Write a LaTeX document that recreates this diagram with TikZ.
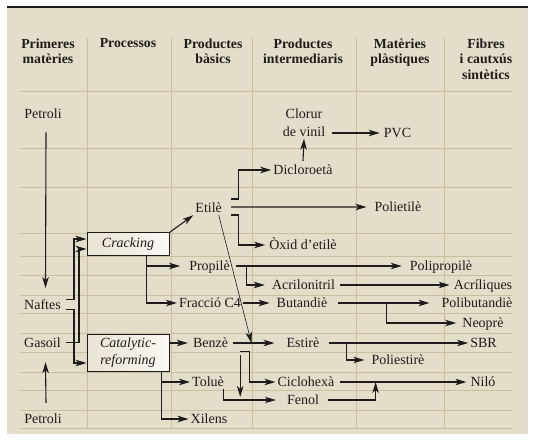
\documentclass[tikz,border=0pt]{standalone}
\usepackage{fontspec}
\setmainfont{Liberation Serif}
\usetikzlibrary{arrows.meta,calc}
\definecolor{bgbeige}{RGB}{228,221,202}
\definecolor{gridtan}{RGB}{203,190,156}
\definecolor{inkcol}{RGB}{30,27,28}
\definecolor{boxleft}{RGB}{233,227,211}
\definecolor{boxright}{RGB}{250,248,243}

\begin{document}
\begin{tikzpicture}[x=1bp,y=-1bp,
  gridline/.style={draw=gridtan,line width=0.6bp},
  colhead/.style={font=\fontsize{13.8bp}{15.5bp}\selectfont\bfseries,align=center,anchor=north,inner sep=0pt,text=inkcol},
  lbl/.style={font=\fontsize{14bp}{16bp}\selectfont,text height=9bp,text depth=0pt,inner sep=2bp,text=inkcol},
  procbox/.style={draw=inkcol,line width=1bp,left color=boxleft,right color=boxright,inner sep=0pt,minimum width=82bp,font=\fontsize{14bp}{16.5bp}\selectfont\itshape,align=center,text=inkcol},
  arr/.style={draw=inkcol,line width=1.1bp,-{Stealth[length=11bp,width=6.5bp,inset=3bp]}},
  thinarr/.style={arr,line width=0.6bp}]
% Page and background
\useasboundingbox (0,0) rectangle (538,440);
\fill[white] (0,0) rectangle (538,440);
\fill[bgbeige] (7,8) rectangle (528,434);
\draw[inkcol,line width=2bp] (7,7) -- (528,7);
% Grid
\foreach \x in {87,171,252,356,444}
  \draw[gridline] (\x,38) -- (\x,428);
\foreach \y in {91,148,187,233,256,275,295,313,333,352,372,390,410,428}
  \draw[gridline] (20,\y) -- (512,\y);
% Column heads
\node[colhead] (hprim) at (48,38.6) {Primeres\\matèries};
\node[colhead] (hproc) at (128,38.6) {Processos};
\node[colhead] (hbas) at (213,38.6) {Productes\\bàsics};
\node[colhead] (hint) at (303,38.6) {Productes\\intermediaris};
\node[colhead] (hplas) at (400,38.6) {Matèries\\plàstiques};
\node[colhead] (hfib) at (486,38.6) {Fibres\\i cautxús\\sintètics};
% Raw materials and processes
\node[lbl] (petrolitop) at (43,113.8) {Petroli};
\node[lbl] (naftes) at (42.5,304.8) {Naftes};
\node[lbl] (gasoil) at (42.5,342.5) {Gasoil};
\node[lbl] (petrolibot) at (43,418.5) {Petroli};
\node[procbox,minimum height=22bp] (crack) at (128,244) {Cracking};
\node[procbox,minimum height=37bp] (catal) at (128,352.5) {Catalytic-\\reforming};
% Basic products
\node[lbl] (etile) at (208.7,208.5) {Etilè};
\node[lbl] (propile) at (209.5,266) {Propilè};
\node[lbl] (fraccio) at (210,303) {Fracció C4};
\node[lbl] (benze) at (210.5,343) {Benzè};
\node[lbl] (tolue) at (208,382) {Toluè};
\node[lbl] (xilens) at (209,419) {Xilens};
% Intermediate products
\node[font=\fontsize{14bp}{18.3bp}\selectfont,align=center,inner sep=2bp,text=inkcol,anchor=south] (clorur) at (304,138.7) {Clorur\\de vinil};
\node[lbl] (diclor) at (303,170) {Dicloroetà};
\node[lbl] (oxid) at (303,245) {Òxid d’etilè};
\node[lbl] (acrilo) at (303.5,285) {Acrilonitril};
\node[lbl] (butan) at (302,303) {Butandiè};
\node[lbl] (estire) at (303,343) {Estirè};
\node[lbl] (ciclo) at (306,382) {Ciclohexà};
\node[lbl] (fenol) at (303,400) {Fenol};
% Plastics, fibres and rubbers
\node[lbl] (pvc) at (397.5,133) {PVC};
\node[lbl] (polietile) at (398,207) {Polietilè};
\node[lbl] (polipropile) at (441,266) {Polipropilè};
\node[lbl] (acril) at (483,285) {Acríliques};
\node[lbl] (polibut) at (477,303) {Polibutandiè};
\node[lbl] (neopre) at (483,323) {Neoprè};
\node[lbl] (sbr) at (483.5,343) {SBR};
\node[lbl] (poliest) at (398,360) {Poliestirè};
\node[lbl] (nilo) at (483,382) {Niló};
% Raw materials to processes
\draw[arr] ([xshift=3bp,yshift=-12bp]petrolitop.south) -- ([xshift=3bp,yshift=10bp]naftes.north);
\draw[arr] ([xshift=3bp,yshift=9bp]petrolibot.north) -- ([xshift=3bp,yshift=-13bp]gasoil.south);
\draw[arr] ([xshift=3bp,yshift=5.5bp]naftes.east) -- ++(8,0) |- ([yshift=5bp]crack.west);
\draw[arr] ([xshift=3bp,yshift=-4.5bp]naftes.east) -- ++(8,0) |- ([yshift=-10.5bp]catal.west);
\draw[arr] ([xshift=3bp]gasoil.east) -- ++(13,0) |- ([yshift=-5bp]crack.west);
% Cracking
\draw[arr] (crack.north east) -- (etile.south west);
\draw[arr] ([xshift=18.7bp]crack.south) |- ([xshift=-7bp]propile.west);
\draw[arr] ([xshift=18.7bp]crack.south) |- (fraccio.west);
% Etile
\draw[arr] ([xshift=7bp,yshift=9.5bp]etile.east) -- ++(7,0) |- (diclor.west);
\draw[arr] ([xshift=7bp,yshift=1.5bp]etile.east) -- ([xshift=-6bp]polietile.west);
\draw[arr] ([xshift=7bp,yshift=-6.5bp]etile.east) -- ++(7,0) |- ([xshift=-2bp]oxid.west);
\draw[thinarr] ([xshift=10bp]etile.south) -- ([xshift=-33bp]estire.west);
\draw[arr] ([yshift=2.5bp]diclor.north) -- (clorur.south);
\draw[arr] ($(pvc.west -| clorur.east)+(4.5,0)$) -- ([xshift=-2bp]pvc.west);
% Propile
\draw[arr] ([xshift=4bp]propile.east) -- ([xshift=-6bp]polipropile.west);
\draw[arr] ([xshift=15bp]propile.east) |- ([xshift=-5bp]acrilo.west);
\draw[arr] ([xshift=3bp]acrilo.east) -- ([xshift=-2bp]acril.west);
% Fraccio C4
\draw[arr] (fraccio.east) -- ([xshift=-5bp]butan.west);
\draw[arr] ([xshift=9bp]butan.east) -- ([xshift=-10bp]polibut.west);
\draw[arr] ([xshift=57bp]butan.east) |- ([xshift=-4bp]neopre.west);
% Catalytic reforming
\draw[arr] (benze.west -| catal.east) -- ([xshift=-3bp]benze.west);
\draw[arr] ([xshift=33.7bp]catal.south) |- (tolue.west);
\draw[arr] ([xshift=33.7bp]catal.south) |- (xilens.west);
% Benze and Tolue
\coordinate (bzout) at ([xshift=10bp]benze.south east);
\draw[arr] ([xshift=3bp]benze.east) -- ([xshift=-10bp]estire.west);
\draw[arr] ([yshift=-1.5bp]bzout) -- ++(9,0) |- (ciclo.west);
\draw[arr] ([yshift=-5.5bp]bzout) -- ($(bzout |- fenol.west)+(0,-3)$);
\draw[arr] ([xshift=-2.5bp]tolue.south east) |- ([xshift=-9bp]fenol.west);
% Estire, Ciclohexa, Fenol
\draw[arr] ([xshift=7bp]estire.east) -- (sbr.west);
\draw[arr] ([xshift=25bp]estire.east) |- ([xshift=-5bp]poliest.west);
\draw[arr] ([xshift=3bp]ciclo.east) -- ([xshift=-2bp]nilo.west);
\draw[arr] ([xshift=7bp]fenol.east) -| ([xshift=39bp]ciclo.east);
\end{tikzpicture}
\end{document}
